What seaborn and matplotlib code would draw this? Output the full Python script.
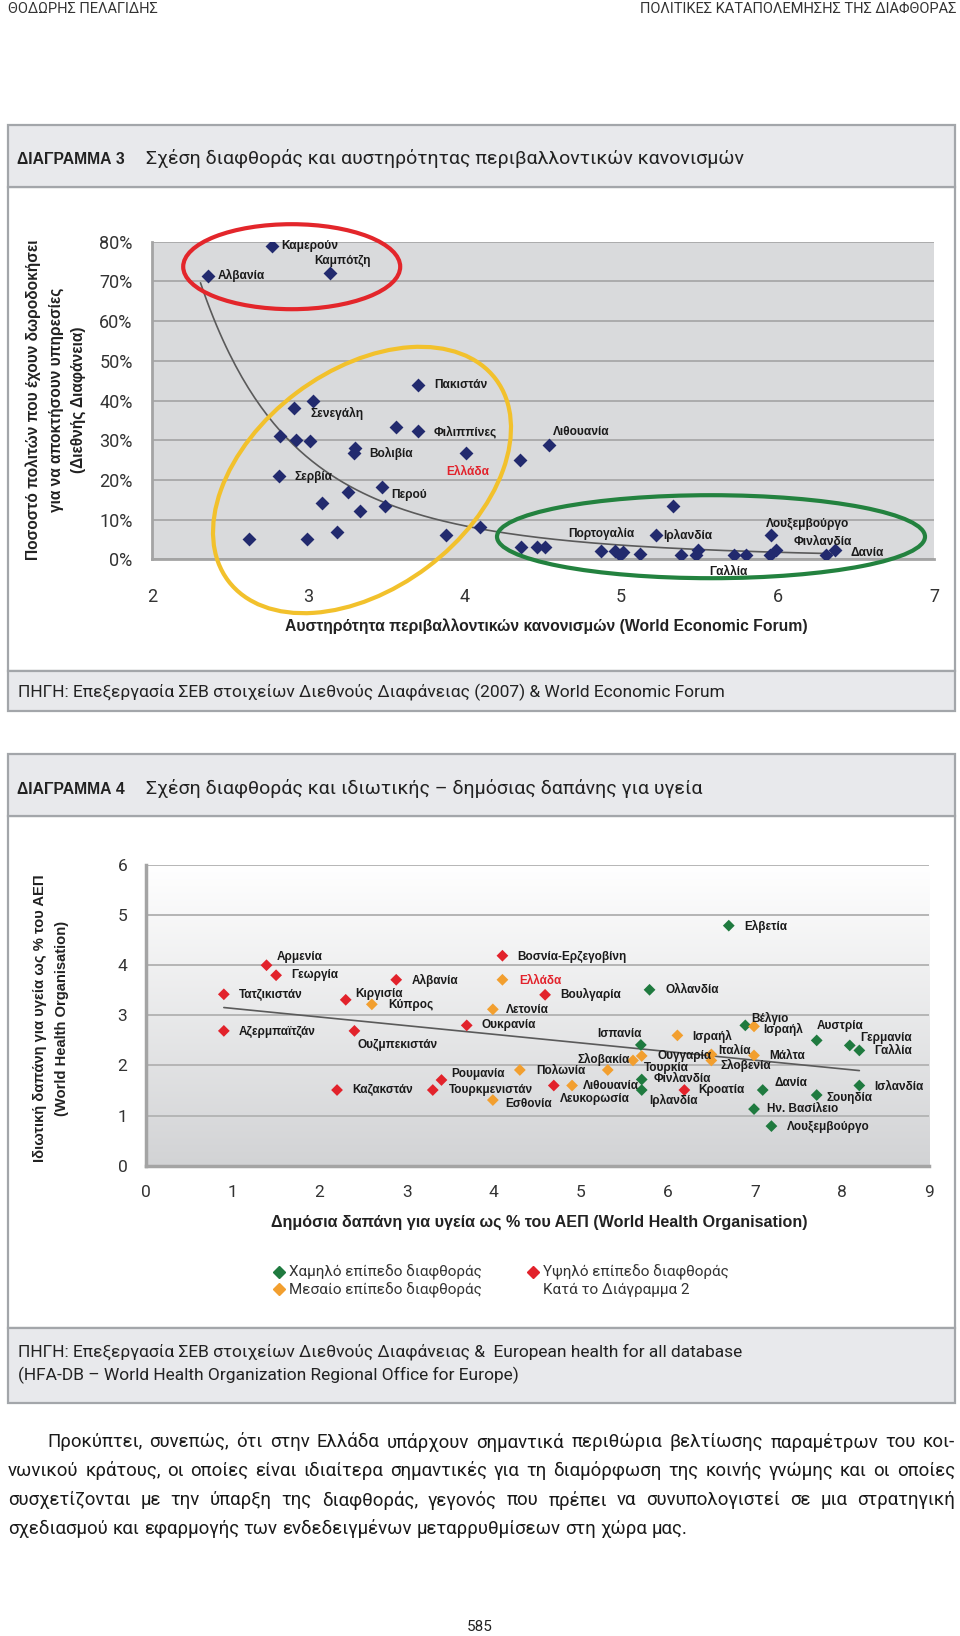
import numpy as np
import pandas as pd
import matplotlib
matplotlib.use("Agg")
import matplotlib.pyplot as plt
import seaborn as sns
from matplotlib.patches import Rectangle, Ellipse
from matplotlib.transforms import IdentityTransform
from matplotlib.lines import Line2D
from matplotlib.colors import LinearSegmentedColormap

# ---------------- DATA ----------------
# Chart 3: environmental regulation stringency vs bribery (%)
env_strictness = [2.36, 2.77, 3.14, 3.70, 2.91, 3.03, 2.82, 2.92, 3.01, 3.56,
                  3.70, 3.30, 3.29, 4.01, 2.81, 3.47, 3.25, 3.09, 3.33, 3.49,
                  2.62, 2.99, 3.18, 3.88, 4.10, 4.35, 4.54, 5.33, 4.36, 4.46,
                  4.51, 4.87, 4.96, 5.01, 4.99, 5.12, 5.22, 5.38, 5.48, 5.49,
                  5.72, 5.80, 5.96, 5.95, 5.99, 6.31, 6.37]
bribery_pct = [71.4, 79.0, 72.2, 43.9, 38.0, 40.0, 31.1, 30.0, 29.9, 33.2,
               32.3, 28.0, 26.7, 26.9, 21.0, 18.3, 17.0, 14.3, 12.2, 13.4,
               5.0, 5.0, 7.0, 6.1, 8.1, 25.0, 28.8, 13.4, 3.2, 3.2,
               3.1, 2.2, 2.2, 1.9, 1.1, 1.3, 6.1, 1.1, 1.1, 2.3,
               1.1, 1.1, 6.1, 1.1, 2.3, 1.1, 2.3]
labels3 = ["Αλβανία", "Καμερούν", "Καμπότζη", "Πακιστάν", None, "Σενεγάλη", None, None, None, None,
           "Φιλιππίνες", "Βολιβία", None, "Ελλάδα", "Σερβία", "Περού", None, None, None, None,
           None, None, None, None, None, None, "Λιθουανία", None, None, None,
           None, "Πορτογαλία", None, None, None, None, "Ιρλανδία", None, None, None,
           "Γαλλία", None, "Λουξεμβούργο", None, "Φινλανδία", None, "Δανία"]

# Chart 4: public vs private health spending (% of GDP)
countries4 = ["Αρμενία", "Γεωργία", "Τατζικιστάν", "Αζερμπαϊτζάν", "Αλβανία", "Κιργισία", "Κύπρος",
              "Ουζμπεκιστάν", "Καζακστάν", "Ρουμανία", "Τουρκμενιστάν", "Ουκρανία", "Ελβετία",
              "Βοσνία-Ερζεγοβίνη", "Ελλάδα", "Βουλγαρία", "Ολλανδία", "Λετονία", "Ισπανία", "Ισραήλ",
              "Βέλγιο", "Ισραήλ", "Αυστρία", "Γερμανία", "Γαλλία", "Σλοβακία", "Ουγγαρία", "Ιταλία",
              "Σλοβενία", "Μάλτα", "Τουρκία", "Πολωνία", "Φινλανδία", "Ιρλανδία", "Λευκορωσία",
              "Λιθουανία", "Εσθονία", "Κροατία", "Δανία", "Ισλανδία", "Σουηδία", "Ην. Βασίλειο",
              "Λουξεμβούργο"]
public_spend = [1.39, 1.50, 0.90, 0.90, 2.88, 2.30, 2.60, 2.40, 2.20, 3.40, 3.30, 3.69, 6.70,
                4.10, 4.10, 4.59, 5.79, 3.99, 5.69, 6.11, 6.89, 6.99, 7.71, 8.09, 8.20, 5.60,
                5.70, 6.50, 6.50, 6.99, 5.31, 4.30, 5.70, 5.70, 4.69, 4.90, 3.99, 6.19, 7.09,
                8.20, 7.71, 6.99, 7.19]
private_spend = [4.00, 3.80, 3.42, 2.69, 3.71, 3.31, 3.22, 2.69, 1.51, 1.71, 1.51, 2.80, 4.79,
                 4.19, 3.71, 3.41, 3.51, 3.12, 2.41, 2.60, 2.80, 2.78, 2.50, 2.40, 2.30, 2.10,
                 2.19, 2.22, 2.10, 2.20, 1.91, 1.91, 1.72, 1.51, 1.60, 1.60, 1.31, 1.51, 1.51,
                 1.60, 1.41, 1.13, 0.79]
corruption = ["high", "high", "high", "high", "high", "high", "medium", "high", "high", "high",
              "high", "high", "low", "high", "medium", "high", "low", "medium", "low", "medium",
              "low", "medium", "low", "low", "low", "medium", "medium", "medium", "medium",
              "medium", "medium", "medium", "low", "low", "high", "medium", "medium", "high",
              "low", "low", "low", "low", "low"]
legend_labels = ["Χαμηλό επίπεδο διαφθοράς", "Μεσαίο επίπεδο διαφθοράς",
                 "Υψηλό επίπεδο διαφθοράς", "Κατά το Διάγραμμα 2"]

# ---------------- LAYOUT / STYLE ----------------
W, H = 960, 1636
def fx(px): return px / W
def fy(py): return 1 - py / H

sns.set_style("white")
plt.rcParams['font.family'] = ['Roboto', 'DejaVu Sans']
FONT_B = ['Liberation Sans', 'DejaVu Sans']
FONT_L = ['Roboto', 'DejaVu Sans']
LW = 'normal'

NAVY = "#222a6e"
GREEN = "#1f7a3f"
ORANGE = "#f29f2f"
RED = "#e2222b"
BOXFILL = "#e8e9ec"
BOXEDGE = "#a3a6aa"
AXGRAY = "#a4a4a4"

fig = plt.figure(figsize=(W / 100, H / 100), dpi=100)

def box(y0, y1, fc):
    fig.add_artist(Rectangle((fx(8), fy(y1)), (955 - 8) / W, (y1 - y0) / H,
                             transform=fig.transFigure, facecolor=fc,
                             edgecolor=BOXEDGE, lw=1.6, zorder=0))

# frames
box(187, 671, "white")
box(125, 187, BOXFILL)
box(671, 711, BOXFILL)
box(816, 1328, "white")
box(754, 816, BOXFILL)
box(1328, 1403, BOXFILL)

# header
fig.text(fx(8), fy(9), "ΘΟΔΩΡΗΣ ΠΕΛΑΓΙΔΗΣ", fontsize=10.5, family=FONT_L, fontweight=LW,
         color="#333333", ha='left', va='center')
fig.text(fx(956), fy(9), "ΠΟΛΙΤΙΚΕΣ ΚΑΤΑΠΟΛΕΜΗΣΗΣ ΤΗΣ ΔΙΑΦΘΟΡΑΣ", fontsize=10.5, family=FONT_L,
         fontweight=LW, color="#333333", ha='right', va='center')

# titles
fig.text(fx(17), fy(160), "ΔΙΑΓΡΑΜΜΑ 3", fontsize=11.3, family=FONT_B, fontweight='bold',
         color="#222222", va='center')
fig.text(fx(146), fy(159), "Σχέση διαφθοράς και αυστηρότητας περιβαλλοντικών κανονισμών",
         fontsize=14, family=FONT_L, fontweight=LW, color="#222222", va='center')
fig.text(fx(17), fy(790), "ΔΙΑΓΡΑΜΜΑ 4", fontsize=11.3, family=FONT_B, fontweight='bold',
         color="#222222", va='center')
fig.text(fx(146), fy(789), "Σχέση διαφθοράς και ιδιωτικής – δημόσιας δαπάνης για υγεία",
         fontsize=14, family=FONT_L, fontweight=LW, color="#222222", va='center')

# sources
fig.text(fx(18), fy(692), "ΠΗΓΗ: Επεξεργασία ΣΕΒ στοιχείων Διεθνούς Διαφάνειας (2007) & World Economic Forum",
         fontsize=12.5, family=FONT_L, fontweight=LW, color="#222222", va='center')
fig.text(fx(18), fy(1352), "ΠΗΓΗ: Επεξεργασία ΣΕΒ στοιχείων Διεθνούς Διαφάνειας &  European health for all database",
         fontsize=12.5, family=FONT_L, fontweight=LW, color="#222222", va='center')
fig.text(fx(18), fy(1375), "(HFA-DB – World Health Organization Regional Office for Europe)",
         fontsize=12.5, family=FONT_L, fontweight=LW, color="#222222", va='center')

# ---------------- CHART 3 ----------------
ax1 = fig.add_axes([fx(152), fy(559.3), (934 - 152) / W, (559.3 - 241.7) / H])
ax1.set_facecolor("#d9dadc")
ax1.set_axisbelow(True)
ax1.grid(axis='y', color="#a8a8a8", lw=1.3)
ax1.grid(axis='x', visible=False)

df3 = pd.DataFrame({"x": env_strictness, "y": bribery_pct, "label": labels3})
sns.scatterplot(data=df3, x="x", y="y", marker='D', s=50, color=NAVY, linewidth=0,
                ax=ax1, zorder=3, legend=False)

# power trend line fitted to the data (as Excel "power" trendline)
b_, a_ = np.polyfit(np.log(df3.x), np.log(df3.y), 1)
xs = np.linspace(df3.x.min() - 0.05, df3.x.max(), 200)
sns.lineplot(x=xs, y=np.exp(a_) * xs ** b_, color="#5a5a5a", lw=1.2, ax=ax1, zorder=2)

ax1.set_xlim(2, 7)
ax1.set_ylim(0, 80)
ax1.set_xticks(range(2, 8))
ax1.set_yticks(range(0, 81, 10))
ax1.set_yticklabels([f"{v}%" for v in range(0, 81, 10)])
ax1.set_xlabel("")
ax1.set_ylabel("")
for s in ['top', 'right']:
    ax1.spines[s].set_visible(False)
for s in ['left', 'bottom']:
    ax1.spines[s].set_color(AXGRAY)
    ax1.spines[s].set_linewidth(2)
ax1.tick_params(axis='y', length=7, width=1.6, color=AXGRAY, pad=7, labelsize=13,
                labelcolor="#333333")
ax1.tick_params(axis='x', length=7, width=1.6, color=AXGRAY, pad=14, labelsize=13,
                labelcolor="#333333")

offsets3 = {"Αλβανία": (9, 0), "Καμερούν": (9, 0), "Καμπότζη": (-16, 12), "Πακιστάν": (16, 0),
            "Σενεγάλη": (-3, -13), "Φιλιππίνες": (16, -1), "Βολιβία": (14, -5),
            "Ελλάδα": (-20, -19), "Σερβία": (16, -1), "Περού": (9, -8), "Λιθουανία": (4, 13),
            "Πορτογαλία": (-33, 17), "Ιρλανδία": (8, 0), "Λουξεμβούργο": (-5, 11),
            "Φινλανδία": (18, 8), "Δανία": (15, -3), "Γαλλία": (-25, -17)}
for _, r in df3.dropna(subset=["label"]).iterrows():
    dx, dy = offsets3[r.label]
    ax1.annotate(r.label, (r.x, r.y), xytext=(dx, dy), textcoords='offset pixels',
                 ha='left', va='center', fontsize=8.6, fontweight='bold', family=FONT_B,
                 color=RED if r.label == "Ελλάδα" else "#1a1a1a",
                 annotation_clip=False, zorder=5)

# highlight ellipses (pixel positions on the page)
for (cx, cy, w, h, ang, col) in [(291.7, 266.7, 217, 85, 0, "#e3262b"),
                                 (362, 480, 335, 218, 37, "#f2c12c"),
                                 (711, 536.7, 428, 83, 0, "#23823f")]:
    fig.add_artist(Ellipse((cx, H - cy), w, h, angle=ang, transform=IdentityTransform(),
                           fill=False, edgecolor=col, lw=3, zorder=6))

# axis labels chart 3
fig.text(fx(546), fy(626), "Αυστηρότητα περιβαλλοντικών κανονισμών (World Economic Forum)",
         fontsize=11.3, fontweight='bold', family=FONT_B, color="#222222", ha='center', va='center')
for xp, line in zip([33, 56, 78], ["Ποσοστό πολιτών που έχουν δωροδοκήσει",
                                   "για να αποκτήσουν υπηρεσίες", "(Διεθνής Διαφάνεια)"]):
    fig.text(fx(xp), fy(400), line, rotation=90, fontsize=11.2, fontweight='bold', family=FONT_B,
             color="#222222", ha='center', va='center')

# ---------------- CHART 4 ----------------
ax2 = fig.add_axes([fx(145.5), fy(1165.7), (929 - 145.5) / W, (1165.7 - 865) / H])
grad = LinearSegmentedColormap.from_list("g", ["#d2d3d5", "#ffffff"])
ax2.imshow(np.linspace(0, 1, 256)[:, None], extent=(0, 9, 0, 6), aspect='auto',
           cmap=grad, origin='lower', zorder=0)
ax2.set_axisbelow(True)
ax2.grid(axis='y', color="#b5b5b5", lw=1.4, zorder=1)
ax2.grid(axis='x', visible=False)

df4 = pd.DataFrame({"country": countries4, "public": public_spend, "private": private_spend,
                    "level": corruption})
sns.regplot(data=df4, x="public", y="private", scatter=False, ci=None, truncate=True,
            line_kws=dict(color="#5a5a5a", lw=1.2, zorder=2), ax=ax2)
sns.scatterplot(data=df4, x="public", y="private", hue="level", marker='D', s=36,
                palette={"low": GREEN, "medium": ORANGE, "high": RED}, linewidth=0,
                legend=False, ax=ax2, zorder=3)
ax2.set_xlim(0, 9)
ax2.set_ylim(0, 6)
ax2.set_xticks(range(0, 10))
ax2.set_yticks(range(0, 7))
ax2.set_xlabel("")
ax2.set_ylabel("")
for s in ['top', 'right']:
    ax2.spines[s].set_visible(False)
for s in ['left', 'bottom']:
    ax2.spines[s].set_color(AXGRAY)
    ax2.spines[s].set_linewidth(2.5)
ax2.tick_params(axis='y', length=7, width=1.8, color=AXGRAY, pad=6, labelsize=12.5,
                labelcolor="#333333")
ax2.tick_params(axis='x', length=8, width=1.8, color=AXGRAY, pad=6, labelsize=12.5,
                labelcolor="#333333")

offsets4 = [(10, 8), (15, 0), (15, -1), (15, -1), (15, -1), (10, 6), (16, -1), (3, -14), (15, 0),
            (10, 6), (16, 0), (15, 0), (15, -1), (15, -1), (17, -1), (15, 0), (16, 0), (13, -1),
            (1, 11), (15, -1), (6, 7), (9, -3), (0, 14), (10, 7), (15, -1), (-3, 1), (16, 0),
            (7, 3), (9, -5), (15, -1), (36, 2), (16, -1), (12, 0), (8, -10), (6, -13), (11, 0),
            (12, -4), (14, 0), (12, 7), (15, -1), (10, -3), (13, 0), (15, -1)]
right_aligned = {18, 25}
for i, r in df4.iterrows():
    dx, dy = offsets4[i]
    ax2.annotate(r.country, (r.public, r.private), xytext=(dx, dy), textcoords='offset pixels',
                 ha='right' if i in right_aligned else 'left', va='center', fontsize=8.5,
                 fontweight='bold', family=FONT_B,
                 color=RED if r.country == "Ελλάδα" else "#1a1a1a",
                 annotation_clip=False, zorder=5)

fig.text(fx(539), fy(1222), "Δημόσια δαπάνη για υγεία ως % του ΑΕΠ (World Health Organisation)",
         fontsize=11.6, fontweight='bold', family=FONT_B, color="#222222", ha='center', va='center')
for xp, line in zip([40, 62], ["Ιδιωτική δαπάνη για υγεία ως % του ΑΕΠ",
                               "(World Health Organisation)"]):
    fig.text(fx(xp), fy(1018), line, rotation=90, fontsize=10.6, fontweight='bold', family=FONT_B,
             color="#222222", ha='center', va='center')

# legend
handles = [Line2D([], [], marker='D', ls='', color=GREEN, ms=6),
           Line2D([], [], marker='D', ls='', color=ORANGE, ms=6),
           Line2D([], [], marker='D', ls='', color=RED, ms=6),
           Line2D([], [], marker=None, ls='')]
fig.legend(handles, legend_labels, ncol=2, loc='upper left',
           bbox_to_anchor=(fx(274), fy(1265)), frameon=False, handlelength=0.7,
           handletextpad=0.3, columnspacing=3.0, labelspacing=0.15, borderpad=0,
           borderaxespad=0, prop=dict(family=FONT_L, size=11, weight=LW),
           labelcolor="#333333")

# ---------------- PARAGRAPH (justified) ----------------
para = ["Προκύπτει, συνεπώς, ότι στην Ελλάδα υπάρχουν σημαντικά περιθώρια βελτίωσης παραμέτρων του κοι-",
        "νωνικού κράτους, οι οποίες είναι ιδιαίτερα σημαντικές για τη διαμόρφωση της κοινής γνώμης και οι οποίες",
        "συσχετίζονται με την ύπαρξη της διαφθοράς, γεγονός που πρέπει να συνυπολογιστεί σε μια στρατηγική",
        "σχεδιασμού και εφαρμογής των ενδεδειγμένων μεταρρυθμίσεων στη χώρα μας."]
line_y = [1442, 1471, 1500, 1529]
line_x0 = [47, 8, 8, 8]
renderer = fig.canvas.get_renderer()

# font size chosen so that the last (unjustified) line has its width in the page
probe = fig.text(0, 0, para[-1], fontsize=10, family=FONT_L, fontweight=LW)
w10 = probe.get_window_extent(renderer).width
probe.remove()
psize = 10 * 681 / w10

for li, (line, yp, x0) in enumerate(zip(para, line_y, line_x0)):
    words = line.split(" ")
    texts = [fig.text(0, 0, w, fontsize=psize, family=FONT_L, fontweight=LW,
                      color="#1a1a1a", va='center', ha='left') for w in words]
    widths = [t.get_window_extent(renderer).width for t in texts]
    if li < len(para) - 1:
        gap = (955 - x0 - sum(widths)) / (len(words) - 1)
    else:
        sp = fig.text(0, 0, "a a", fontsize=psize, family=FONT_L, fontweight=LW)
        sp2 = fig.text(0, 0, "aa", fontsize=psize, family=FONT_L, fontweight=LW)
        gap = sp.get_window_extent(renderer).width - sp2.get_window_extent(renderer).width
        sp.remove(); sp2.remove()
    xcur = x0
    for t, w in zip(texts, widths):
        t.set_position((fx(xcur), fy(yp)))
        xcur += w + gap

fig.text(fx(480), fy(1627), "585", fontsize=11, family=FONT_L, fontweight=LW,
         color="#222222", ha='center', va='center')

fig.savefig("out.png", dpi=100)
